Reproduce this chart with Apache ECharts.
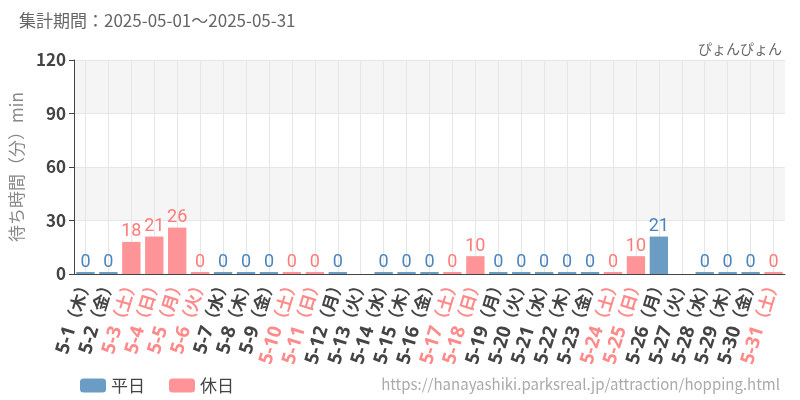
<!DOCTYPE html>
<html>
<head>
    <meta charset="utf-8">
    <title>ぴょんぴょん</title>
    <script src="https://cdn.jsdelivr.net/npm/echarts@6/dist/echarts.min.js"></script>
</head>
<body style="margin:0">
    <div id="main" style="width: 800px; height:400px;"></div>

    <script type="text/javascript">
        // 日付・曜日・休日フラグ
        var days = ['5-1','5-2','5-3','5-4','5-5','5-6','5-7','5-8','5-9','5-10','5-11','5-12','5-13','5-14','5-15','5-16',
                    '5-17','5-18','5-19','5-20','5-21','5-22','5-23','5-24','5-25','5-26','5-27','5-28','5-29','5-30','5-31'];
        var weekdays = ['木','金','土','日','月','火','水','木','金','土','日','月','火','水','木','金',
                        '土','日','月','火','水','木','金','土','日','月','火','水','木','金','土'];
        var holiday = [0,0,1,1,1,1,0,0,0,1,1,0,0,0,0,0,1,1,0,0,0,0,0,1,1,0,0,0,0,0,1];
        // 待ち時間（分）  null = データなし
        var waits = [0,0,18,21,26,0,0,0,0,0,0,0,null,0,0,0,0,10,0,0,0,0,0,0,10,21,null,0,0,0,0];
        var yTicks = [0, 30, 60, 90, 120];

        var weekdayData = waits.map(function (v, i) { return (!holiday[i] && v !== null) ? v : '-'; });
        var holidayData = waits.map(function (v, i) { return (holiday[i] && v !== null) ? v : '-'; });

        var myChart = echarts.init(document.getElementById('main'));

        var labelFont = "'Liberation Sans Narrow', 'Roboto', sans-serif";
        var latin = "'Noto Sans', sans-serif";
        var cjk = "'Noto Sans CJK JP', sans-serif";

        var option = {
            animation: false,
            textStyle: { fontFamily: "'Noto Sans CJK JP', 'Noto Sans', sans-serif" },
            title: [
                {
                    text: '集計期間：2025-05-01～2025-05-31',
                    left: 14, top: 7,
                    textStyle: { fontSize: 17, fontWeight: 'normal', color: '#666' }
                },
                {
                    text: 'ぴょんぴょん',
                    right: 13, top: 37,
                    textStyle: { fontSize: 14, fontWeight: 'normal', color: '#666' }
                },
                {
                    text: 'https://hanayashiki.parksreal.jp/attraction/hopping.html',
                    right: 15, top: 372,
                    textStyle: { fontSize: 15, fontWeight: 'normal', color: '#aaa' }
                }
            ],
            legend: {
                left: 75, top: 372,
                itemWidth: 26, itemHeight: 14, itemGap: 24,
                textStyle: { fontSize: 17, color: '#444' },
                data: ['平日', '休日']
            },
            grid: { left: 70, right: 15, top: 60, bottom: 126 },
            xAxis: {
                type: 'category',
                data: days,
                axisLine: { lineStyle: { color: '#444' } },
                axisTick: { alignWithLabel: true, lineStyle: { color: '#444' } },
                splitLine: { show: true, alignWithLabel: true, lineStyle: { color: '#e6e6e6' } },
                axisLabel: {
                    interval: 0,
                    rotate: 73,
                    margin: 4,
                    fontSize: 18,
                    formatter: function (val, idx) {
                        var h = holiday[idx] ? 'h' : '';
                        return '{d' + h + '|' + val + '}{w' + h + '|（' + weekdays[idx] + '）}';
                    },
                    rich: {
                        d:  { fontSize: 19, fontFamily: latin, fontWeight: 'bold', color: '#444' },
                        w:  { fontSize: 17, fontFamily: cjk, fontWeight: 'bold', color: '#444' },
                        dh: { fontSize: 19, fontFamily: latin, fontWeight: 'bold', color: '#ff8a8a' },
                        wh: { fontSize: 17, fontFamily: cjk, fontWeight: 'bold', color: '#ff8a8a' }
                    }
                }
            },
            yAxis: {
                type: 'value',
                min: yTicks[0],
                max: yTicks[yTicks.length - 1],
                interval: 30,
                name: '待ち時間（分）min',
                nameLocation: 'middle',
                nameGap: 46,
                nameTextStyle: { fontSize: 17, color: '#888' },
                axisLine: { show: true, lineStyle: { color: '#444' } },
                axisTick: { show: true, lineStyle: { color: '#444' } },
                axisLabel: { fontSize: 17, fontWeight: 'bold', color: '#444', margin: 8 },
                splitLine: { lineStyle: { color: '#e6e6e6' } },
                splitArea: { show: true, areaStyle: { color: ['#ffffff', '#f5f5f5'] } }
            },
            series: [
                {
                    name: '平日',
                    type: 'bar',
                    data: weekdayData,
                    barWidth: '80%',
                    barGap: '-100%',
                    barMinHeight: 2,
                    itemStyle: { color: '#6a9cc4' },
                    label: {
                        show: true, position: 'top', distance: 1,
                        fontSize: 18, fontFamily: labelFont, color: '#4a85bd'
                    }
                },
                {
                    name: '休日',
                    type: 'bar',
                    data: holidayData,
                    barWidth: '80%',
                    barGap: '-100%',
                    barMinHeight: 2,
                    itemStyle: { color: '#ff9498' },
                    label: {
                        show: true, position: 'top', distance: 1,
                        fontSize: 18, fontFamily: labelFont, color: '#ff7a7a'
                    }
                }
            ]
        };

        myChart.setOption(option);
    </script>
</body>
</html>
